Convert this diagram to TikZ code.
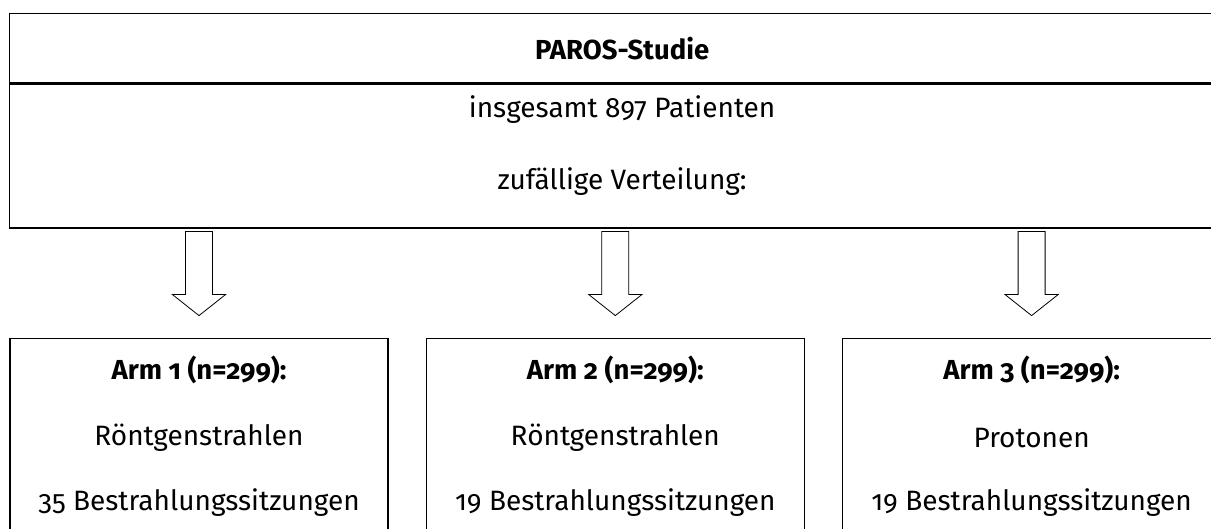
\documentclass[tikz,border=0pt]{standalone}
\usepackage{fontspec}
\setmainfont{Fira Sans}[Numbers=OldStyle]
\usepackage{tikz}
\usetikzlibrary{positioning}
\tikzset{
    frame-box/.style = {draw=black, line width=1.3pt, rectangle, inner sep=0pt},
    arm-box/.style = {frame-box, minimum width=378pt, minimum height=215pt, anchor=north},
    box-text/.style = {font=\fontsize{28}{32}\selectfont, inner sep=0pt},
    box-title/.style = {box-text, font=\fontsize{27.5}{32}\selectfont\bfseries},
    block-arrow/.style = {draw=black, line width=0.8pt, fill=white},
}

\begin{document}
\begin{tikzpicture}[x=1pt, y=1pt]
\useasboundingbox (0,0) rectangle (1211,529);
\clip (0,0) rectangle (1211,529);
% Kopf der Studie
\node [frame-box, minimum width=1225pt, minimum height=69pt, anchor=north west] (kopf) at (9,516) {};
\node [frame-box, minimum width=1225pt, minimum height=144pt, anchor=north west] (gesamt) at (kopf.south west) {};
\node [box-title] (titel) at (kopf.center) {PAROS-Studie};
\node [box-text] (anzahl) at ([yshift=-26pt]gesamt.north) {insgesamt 897 Patienten};
\node [box-text] (verteilung) at ([yshift=-98pt]gesamt.north) {zufällige Verteilung:};
% die drei Arme
\node [arm-box] (arm1) at (199,191) {};
\node [arm-box, right=37pt of arm1] (arm2) {};
\node [arm-box, right=37pt of arm2] (arm3) {};
\node [box-title] (arm1titel) at ([yshift=-32pt]arm1.north) {Arm 1 (n=299):};
\node [box-title] (arm2titel) at ([yshift=-32pt]arm2.north) {Arm 2 (n=299):};
\node [box-title] (arm3titel) at ([yshift=-32pt]arm3.north) {Arm 3 (n=299):};
\node [box-text] (arm1art) at ([yshift=-100pt]arm1.north) {Röntgenstrahlen};
\node [box-text] (arm2art) at ([yshift=-100pt]arm2.north) {Röntgenstrahlen};
\node [box-text] (arm3art) at ([yshift=-100pt]arm3.north) {Protonen};
\node [box-text] (arm1zahl) at ([yshift=-165pt]arm1.north) {35 Bestrahlungssitzungen};
\node [box-text] (arm2zahl) at ([yshift=-165pt]arm2.north) {19 Bestrahlungssitzungen};
\node [box-text] (arm3zahl) at ([yshift=-165pt]arm3.north) {19 Bestrahlungssitzungen};
% Pfeile
\foreach \i in {1,2,3}
    \draw [block-arrow, shift={(arm\i.north |- gesamt.south)}]
        (-13.5,-3) -- (-13.5,-66) -- (-26.5,-66) -- (0,-87) -- (26.5,-66) -- (13.5,-66) -- (13.5,-3) -- cycle;
\end{tikzpicture}
\end{document}
